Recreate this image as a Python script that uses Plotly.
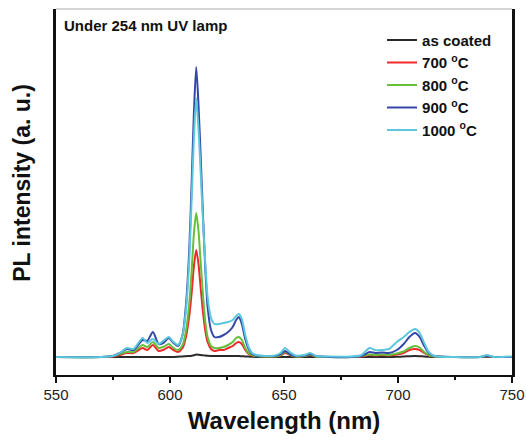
import plotly.graph_objects as go

# Wavelength grid (nm)
wavelength = [550, 570, 575, 578, 581, 584, 588, 590, 592.5, 595, 597, 599.5, 601.5, 603.5,
              605.5, 607, 608.5, 609.5, 610.5, 611.5, 612.5, 613.5, 614.5, 615.5, 616.5, 618,
              619.5, 621.5, 623.5, 625.5, 627.5, 629, 630.2, 631.5, 633, 634.5, 636, 638, 642,
              646, 648.5, 650.5, 652.5, 655, 659, 661.5, 664, 670, 680, 684, 687.5, 690, 693,
              696, 699.5, 702.5, 705, 707.5, 709.5, 711.5, 713.5, 716, 725, 736, 739, 742, 750]

as_coated = [0, 0, 0, 0, 0, 0, 0, 0, 0, 0, 0, 0, 0, 0.3,
             0.5, 0.8, 1, 1.3, 1.8, 2.5, 2.3, 2, 1.7, 1.4, 1.2, 1.1,
             1, 1, 1, 1, 1, 1, 1, 0.8, 0.6, 0.4, 0.2, 0, 0,
             0, 0, 0, 0, 0, 0, 0, 0, 0, 0, 0, 0, 0, 0,
             0, 0.2, 0.5, 0.8, 1, 0.8, 0.5, 0.2, 0, 0, 0, 0, 0, 0]

t700 = [0, 0, 0.5, 2, 4, 4, 9, 7, 12, 6, 7, 10, 7, 5,
        9, 20, 42, 64, 91, 107, 93, 68, 44, 26, 15, 8,
        6, 7, 7, 9, 11, 14, 15, 13, 7, 3, 1.5, 1, 0.5,
        0.5, 1.5, 4, 2, 0.5, 1, 2, 0.5, 0, 0, 0.5, 2, 1.5, 2,
        1.5, 2.5, 4, 7, 8, 7, 4, 1.5, 0.5, 0, 0, 0.5, 0, 0]

t800 = [0, 0, 1, 3, 5, 5, 12, 10, 15, 9, 10, 13, 9, 7,
        12, 26, 55, 86, 124, 144, 126, 93, 61, 35, 20, 11,
        9, 9, 10, 12, 15, 19, 20, 17, 9, 4, 2, 1, 0.5,
        0.5, 2, 5, 2.5, 0.5, 1, 2.5, 0.5, 0, 0, 1, 2.5, 2, 2.5,
        2, 3.5, 5.5, 9, 11, 9.5, 5, 2, 0.5, 0, 0, 0.8, 0, 0]

t900 = [0, 0, 1, 4, 8, 7, 17, 16, 25, 13, 14, 19, 14, 11,
        22, 52, 110, 175, 245, 290, 252, 198, 140, 88, 50, 27,
        20, 20, 22, 25, 30, 37, 40, 33, 18, 8, 3, 1.5, 1,
        1, 3, 6, 3, 1, 1.5, 3, 1, 0, 0, 1, 5, 4, 4.5,
        4, 7, 13, 20, 24, 20, 11, 4, 1, 0, 0, 1, 0, 0]

t1000 = [0, 0, 1, 4, 9, 8, 19, 14, 18, 13, 16, 20, 15, 12,
         22, 47, 100, 158, 220, 259, 228, 182, 135, 93, 60, 39,
         33, 33, 34, 35, 37, 41, 43, 38, 22, 10, 4, 2, 1,
         1.5, 4, 9, 5, 1.5, 2, 4, 1, 0.5, 0.5, 2, 9, 7, 7,
         8, 15, 20, 25, 28, 24, 14, 5, 1, 0, 0, 2, 0, 0.5]

series_names = ["as coated", "700 <sup>o</sup>C", "800 <sup>o</sup>C", "900 <sup>o</sup>C", "1000 <sup>o</sup>C"]
series_values = [as_coated, t700, t800, t900, t1000]
series_colors = ["#2a2a2a", "#ee2a2a", "#66bf3c", "#3446a6", "#5cc6dc"]

x_ticks = [550, 600, 650, 700, 750]

fig = go.Figure()
for name, vals, col in zip(series_names, series_values, series_colors):
    fig.add_trace(go.Scatter(
        x=wavelength, y=vals, mode="lines", name=name,
        line=dict(color=col, width=2, shape="spline", smoothing=0.7),
    ))

font_family = "Liberation Sans, Arial, sans-serif"

fig.update_layout(
    width=526, height=442,
    margin=dict(l=56, r=14, t=9, b=67),
    paper_bgcolor="white", plot_bgcolor="white",
    font=dict(family=font_family, color="#111"),
    showlegend=True,
    legend=dict(
        x=0.715, y=0.96, xanchor="left", yanchor="top",
        bgcolor="rgba(0,0,0,0)", borderwidth=0,
        font=dict(family=font_family, size=15, color="#111", weight="bold"),
        tracegroupgap=0,
    ),
    xaxis=dict(
        range=[550, 750], tickvals=x_ticks, ticktext=[str(v) for v in x_ticks],
        ticks="outside", ticklen=6, tickwidth=2, tickcolor="#111",
        minor=dict(dtick=25, tick0=550, ticks="outside", ticklen=3, tickwidth=2, tickcolor="#111"),
        showline=True, linecolor="#111", linewidth=2, mirror=False,
        showgrid=False, zeroline=False, automargin=False,
        tickfont=dict(size=15, color="#222"), ticklabelstandoff=-1,
        title=dict(text="<b>Wavelength (nm)</b>", font=dict(size=24, color="#111"), standoff=10),
    ),
    yaxis=dict(
        range=[-18, 348], showticklabels=False, ticks="",
        showline=True, linecolor="#111", linewidth=2.5, mirror=True,
        showgrid=False, zeroline=False, automargin=False,
    ),
)

fig.add_shape(type="line", xref="paper", yref="paper", x0=0, x1=1, y0=1, y1=1,
              line=dict(color="#aaaaaa", width=1))

fig.add_annotation(
    x=0.013, y=0.956, xref="paper", yref="paper", xanchor="left", yanchor="middle",
    text="<b>Under 254 nm UV lamp</b>", showarrow=False,
    font=dict(family=font_family, size=15, color="#111"),
)

fig.add_annotation(
    x=-0.0746, y=0.525, xref="paper", yref="paper", xanchor="center", yanchor="middle",
    text="<b>PL intensity (a. u.)</b>", textangle=-90, showarrow=False,
    font=dict(family=font_family, size=23, color="#111"),
)

fig.write_html("out.html", config={"displayModeBar": False},
               post_script="document.body.style.margin='0';")
